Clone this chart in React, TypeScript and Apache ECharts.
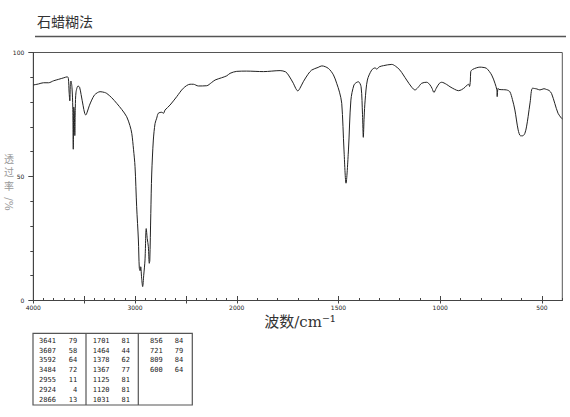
import React, { useEffect, useRef } from "react";
import * as echarts from "echarts";

const titleText = "石蜡糊法";
const xAxisName = "波数/cm⁻¹";
const yAxisNameUpright = ["透", "过", "率"];
const yAxisNameRotated = "/%";

const xTickLabels = [4000, 3000, 2000, 1500, 1000, 500];
const xMajorTicks = [4000, 3500, 3000, 2500, 2000, 1500, 1000, 500];
const yTickLabels = [0, 50, 100];

const specWavenumber = [
  4000, 3950, 3900, 3850, 3800, 3750, 3700, 3665, 3655, 3648, 3641, 3636, 3630, 3620, 3612, 3607, 3602, 3597, 3592, 3587,
  3580, 3560, 3545, 3530, 3510, 3495, 3484, 3470, 3450, 3426, 3400, 3370, 3344, 3300, 3278, 3230, 3180, 3130, 3082, 3050,
  3032, 3015, 3000, 2984, 2967, 2958, 2950, 2944, 2935, 2925, 2915, 2902, 2890, 2880, 2869, 2860, 2855, 2845, 2836, 2820,
  2803, 2787, 2771, 2737, 2720, 2705, 2656, 2590, 2525, 2459, 2427, 2377, 2295, 2250, 2213, 2150, 2098, 2066, 2000, 1951,
  1869, 1787, 1760, 1746, 1722, 1710, 1700, 1690, 1673, 1650, 1632, 1600, 1582, 1550, 1525, 1509, 1495, 1484, 1473, 1463,
  1451, 1439, 1424, 1410, 1402, 1389, 1382, 1378, 1374, 1369, 1358, 1337, 1320, 1312, 1300, 1279, 1238, 1220, 1198, 1165,
  1140, 1124, 1110, 1091, 1066, 1050, 1040, 1031, 1020, 1005, 993, 970, 952, 930, 911, 895, 878, 866, 860, 856,
  852, 850, 840, 805, 790, 772, 747, 731, 722, 720, 716, 711, 690, 674, 658, 645, 633, 617, 605, 595,
  584, 576, 568, 558, 546, 525, 510, 490, 478, 465, 453, 437, 421, 404, 400,
];
const specTransmittance = [
  86.9, 87.3, 87.8, 87.8, 88.6, 89.2, 89.8, 90.2, 89.5, 84, 80.5, 87, 88.5, 86, 78, 61, 78, 76, 66.5, 78,
  84, 86.5, 86, 83, 78.5, 75.5, 74.8, 76, 78.5, 80.8, 82.8, 83.8, 84.2, 83.9, 83.5, 81.8, 79.5, 77, 74.1, 70.5,
  67.4, 61, 54, 37.8, 24.4, 13.1, 12, 13.6, 9, 5.6, 10, 16.3, 29, 25, 21.7, 15, 16, 35, 51, 64.7,
  71.4, 73.5, 75.5, 75.9, 75.5, 76.8, 78.8, 82.2, 85.6, 87.2, 87.2, 86.5, 86.6, 87.8, 88.9, 89.8, 90.6, 91.6, 92.4, 92.5,
  92.3, 92.7, 92.2, 90.9, 87.6, 85.5, 84.5, 85.5, 88.2, 91.2, 92.9, 94, 94.6, 93.6, 91, 87.6, 84, 79.5, 60.7, 47.3,
  60.7, 80.8, 86.9, 88, 88.2, 86.2, 75, 65.8, 74, 80.8, 88.9, 92.9, 93.8, 93.3, 94.2, 94.7, 95.2, 94.5, 92.9, 88.9,
  86, 84.9, 85.8, 87.6, 88, 86.9, 85.5, 83.9, 85.5, 87.5, 88, 87.2, 86.2, 85.2, 84.6, 85, 86, 87, 87.2, 86.3,
  88.5, 92.3, 93.2, 94.1, 94, 93.6, 90.9, 87.6, 85, 82.2, 85.5, 85.1, 85, 84.9, 84.2, 81, 76.8, 68.8, 66.4, 66.4,
  67.4, 70, 74.1, 80, 85.6, 85.3, 84.9, 85.4, 85.1, 84.7, 83.5, 79.5, 75.5, 73.5, 73.2,
];

const peakWavenumbers = [3641, 3607, 3592, 3484, 2955, 2924, 2866, 1701, 1464, 1378, 1367, 1125, 1120, 1031, 856, 721, 809, 600];
const peakTransmittance = [79, 58, 64, 72, 11, 4, 13, 81, 44, 62, 77, 81, 81, 81, 84, 79, 84, 64];

// Split-scale wavenumber axis: 4000-2000 compressed by half.
const toT = (w: number) => (w >= 2000 ? (4000 - w) / 2 : 1000 + (2000 - w));
const fromT = (t: number) => (t <= 1000 ? 4000 - 2 * t : 2000 - (t - 1000));

const minorTickT: number[] = [];
for (let w = 4000; w >= 400; w -= 100) minorTickT.push(toT(w));

const GRID = { left: 33.3, top: 52.5, width: 529, height: 248 };

export default function App() {
  const ref = useRef<HTMLDivElement>(null);
  useEffect(() => {
    document.body.style.margin = "0";
    if (!ref.current) return;
    const chart = echarts.init(ref.current, null, { renderer: "svg" });
    const data = specWavenumber.map((w, i) => [toT(w), specTransmittance[i]]);
    const axisColor = "#444";
    const labelStyle = { fontSize: 6, color: "#222", fontFamily: "DejaVu Sans" };

    const tableGraphics: any[] = [];
    const tx = 33, ty = 333.3, tw = 159.3, th = 71.7;
    tableGraphics.push({ type: "rect", shape: { x: tx, y: ty, width: tw, height: th }, style: { fill: "none", stroke: "#555", lineWidth: 1.2 } });
    tableGraphics.push({ type: "line", shape: { x1: 86, y1: ty, x2: 86, y2: ty + th }, style: { stroke: "#555", lineWidth: 1.2 } });
    tableGraphics.push({ type: "line", shape: { x1: 138.3, y1: ty, x2: 138.3, y2: ty + th }, style: { stroke: "#555", lineWidth: 1.2 } });
    const colWnX = [39, 92.7, 150];
    const colTX = [77.3, 130, 183.3];
    peakWavenumbers.forEach((w, i) => {
      const col = Math.floor(i / 7);
      const row = i % 7;
      const y = 340.7 + row * 9.88;
      const font = { fontSize: 7, fill: "#222", fontFamily: "DejaVu Sans Mono", textVerticalAlign: "middle" } as any;
      tableGraphics.push({ type: "text", x: colWnX[col], y, style: { ...font, text: String(w), textAlign: "left" } });
      tableGraphics.push({ type: "text", x: colTX[col], y, style: { ...font, text: String(peakTransmittance[i]), textAlign: "right" } });
    });

    const yNameGraphics: any[] = yAxisNameUpright.map((c, i) => ({
      type: "text",
      x: 9,
      y: 158 + i * 13.5,
      style: { text: c, fontSize: 10, fill: "#999", fontFamily: "Noto Sans CJK SC", textAlign: "center", textVerticalAlign: "middle" },
    }));
    yNameGraphics.push({
      type: "text",
      x: 9,
      y: 204,
      rotation: -Math.PI / 2,
      style: { text: yAxisNameRotated, fontSize: 10.5, fill: "#999", fontFamily: "DejaVu Serif", textAlign: "center", textVerticalAlign: "middle" },
    });

    const xMajorT = xMajorTicks.map(toT);
    const xLabelT = xTickLabels.map(toT);

    chart.setOption({
      animation: false,
      backgroundColor: "#fff",
      grid: { ...GRID, show: true, borderColor: "#555", borderWidth: 1, backgroundColor: "transparent" },
      xAxis: [
        {
          type: "value", min: 0, max: 2600, gridIndex: 0, position: "bottom",
          axisLine: { show: true, lineStyle: { color: axisColor, width: 1 } },
          axisTick: { show: true, customValues: xMajorT, inside: false, length: 3, lineStyle: { color: axisColor } },
          axisLabel: { show: true, customValues: xLabelT, formatter: (v: number) => String(Math.round(fromT(v))), margin: 4, ...labelStyle },
          splitLine: { show: false },
        },
        {
          type: "value", min: 0, max: 2600, gridIndex: 0, position: "bottom",
          axisLine: { show: false },
          axisTick: { show: true, customValues: minorTickT, inside: true, length: 2.5, lineStyle: { color: axisColor } },
          axisLabel: { show: false },
          splitLine: { show: false },
        },
        {
          type: "value", min: 0, max: 2600, gridIndex: 0, position: "bottom",
          axisLine: { show: false },
          axisTick: { show: true, customValues: xMajorT, inside: true, length: 4.5, lineStyle: { color: axisColor } },
          axisLabel: { show: false },
          splitLine: { show: false },
        },
      ],
      yAxis: [
        {
          type: "value", min: 0, max: 100, interval: 10, gridIndex: 0, position: "left",
          axisLine: { show: true, lineStyle: { color: axisColor, width: 1 } },
          axisTick: { show: true, inside: false, length: 3, lineStyle: { color: axisColor } },
          axisLabel: { show: true, customValues: yTickLabels, margin: 9, ...labelStyle },
          splitLine: { show: false },
        },
        {
          type: "value", min: 0, max: 100, interval: 50, gridIndex: 0, position: "left",
          axisLine: { show: false },
          axisTick: { show: true, inside: false, length: 5, lineStyle: { color: axisColor } },
          axisLabel: { show: false },
          splitLine: { show: false },
        },
      ],
      series: [
        {
          type: "line", xAxisIndex: 0, yAxisIndex: 0, data, showSymbol: false, smooth: 0.3,
          lineStyle: { color: "#222", width: 1 }, silent: true,
        },
      ],
      graphic: [
        { type: "text", x: 37, y: 21, style: { text: titleText, fontSize: 14, fill: "#333", fontFamily: "Noto Sans CJK SC", textVerticalAlign: "middle" } },
        { type: "line", shape: { x1: 35, y1: 36.5, x2: 566, y2: 36.5 }, style: { stroke: "#555", lineWidth: 1.3 } },
        { type: "text", x: 300, y: 322, style: { text: xAxisName, fontSize: 15, fill: "#333", fontFamily: "DejaVu Serif, Noto Sans CJK SC", textAlign: "center", textVerticalAlign: "middle" } },
        ...yNameGraphics,
        ...tableGraphics,
      ],
    });
    return () => chart.dispose();
  }, []);
  return <div ref={ref} style={{ width: 570, height: 417 }} />;
}
